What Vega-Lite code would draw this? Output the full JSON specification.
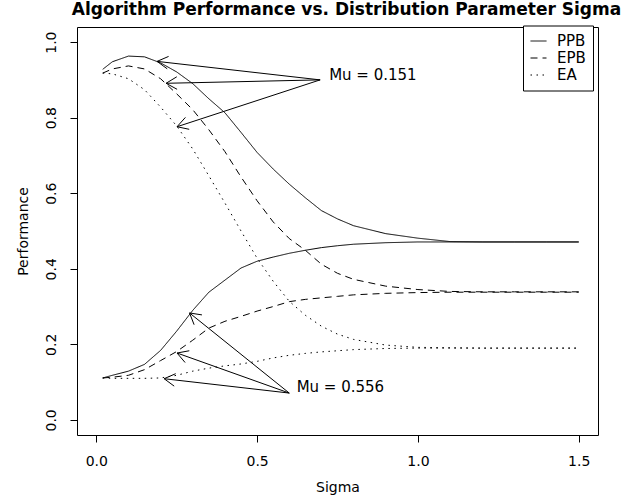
{
  "$schema": "https://vega.github.io/schema/vega-lite/v6.json",
  "width": 521,
  "height": 408,
  "autosize": "none",
  "padding": {"left": 77, "top": 27, "right": 45, "bottom": 64},
  "background": "white",
  "config": {
    "font": "DejaVu Sans",
    "view": {"stroke": "black", "strokeWidth": 1},
    "axis": {"grid": false, "domain": false, "tickColor": "black", "tickSize": 7, "labelColor": "black", "titleColor": "black", "labelFontSize": 14, "titleFontSize": 14, "titleFontWeight": "normal", "labelFont": "DejaVu Sans", "titleFont": "DejaVu Sans"},
    "legend": {"strokeColor": "black", "fillColor": "white", "padding": 7, "symbolType": "stroke", "symbolSize": 256, "symbolStrokeWidth": 1, "symbolStrokeColor": "black", "labelFontSize": 15, "labelFont": "DejaVu Sans", "labelColor": "black", "labelOffset": 10, "rowPadding": -1, "cornerRadius": 0}
  },
  "title": {"text": "Algorithm Performance vs. Distribution Parameter Sigma", "fontSize": 17, "fontWeight": "bold", "font": "DejaVu Sans", "anchor": "middle", "color": "black", "offset": 6, "dx": 9},
  "datasets": {
    "curves": [
      {"s": 0.02, "p": 0.928, "alg": "PPB", "mu": "0.151"},
      {"s": 0.05, "p": 0.948, "alg": "PPB", "mu": "0.151"},
      {"s": 0.10, "p": 0.963, "alg": "PPB", "mu": "0.151"},
      {"s": 0.15, "p": 0.961, "alg": "PPB", "mu": "0.151"},
      {"s": 0.20, "p": 0.945, "alg": "PPB", "mu": "0.151"},
      {"s": 0.25, "p": 0.921, "alg": "PPB", "mu": "0.151"},
      {"s": 0.30, "p": 0.890, "alg": "PPB", "mu": "0.151"},
      {"s": 0.35, "p": 0.850, "alg": "PPB", "mu": "0.151"},
      {"s": 0.40, "p": 0.813, "alg": "PPB", "mu": "0.151"},
      {"s": 0.45, "p": 0.761, "alg": "PPB", "mu": "0.151"},
      {"s": 0.50, "p": 0.708, "alg": "PPB", "mu": "0.151"},
      {"s": 0.55, "p": 0.664, "alg": "PPB", "mu": "0.151"},
      {"s": 0.60, "p": 0.624, "alg": "PPB", "mu": "0.151"},
      {"s": 0.65, "p": 0.588, "alg": "PPB", "mu": "0.151"},
      {"s": 0.70, "p": 0.554, "alg": "PPB", "mu": "0.151"},
      {"s": 0.75, "p": 0.532, "alg": "PPB", "mu": "0.151"},
      {"s": 0.80, "p": 0.514, "alg": "PPB", "mu": "0.151"},
      {"s": 0.90, "p": 0.493, "alg": "PPB", "mu": "0.151"},
      {"s": 1.00, "p": 0.481, "alg": "PPB", "mu": "0.151"},
      {"s": 1.10, "p": 0.472, "alg": "PPB", "mu": "0.151"},
      {"s": 1.20, "p": 0.471, "alg": "PPB", "mu": "0.151"},
      {"s": 1.30, "p": 0.471, "alg": "PPB", "mu": "0.151"},
      {"s": 1.40, "p": 0.471, "alg": "PPB", "mu": "0.151"},
      {"s": 1.50, "p": 0.471, "alg": "PPB", "mu": "0.151"},

      {"s": 0.02, "p": 0.918, "alg": "EPB", "mu": "0.151"},
      {"s": 0.05, "p": 0.929, "alg": "EPB", "mu": "0.151"},
      {"s": 0.10, "p": 0.937, "alg": "EPB", "mu": "0.151"},
      {"s": 0.15, "p": 0.929, "alg": "EPB", "mu": "0.151"},
      {"s": 0.20, "p": 0.903, "alg": "EPB", "mu": "0.151"},
      {"s": 0.25, "p": 0.863, "alg": "EPB", "mu": "0.151"},
      {"s": 0.30, "p": 0.821, "alg": "EPB", "mu": "0.151"},
      {"s": 0.35, "p": 0.768, "alg": "EPB", "mu": "0.151"},
      {"s": 0.40, "p": 0.710, "alg": "EPB", "mu": "0.151"},
      {"s": 0.45, "p": 0.643, "alg": "EPB", "mu": "0.151"},
      {"s": 0.50, "p": 0.580, "alg": "EPB", "mu": "0.151"},
      {"s": 0.55, "p": 0.524, "alg": "EPB", "mu": "0.151"},
      {"s": 0.60, "p": 0.480, "alg": "EPB", "mu": "0.151"},
      {"s": 0.65, "p": 0.449, "alg": "EPB", "mu": "0.151"},
      {"s": 0.70, "p": 0.412, "alg": "EPB", "mu": "0.151"},
      {"s": 0.75, "p": 0.388, "alg": "EPB", "mu": "0.151"},
      {"s": 0.80, "p": 0.372, "alg": "EPB", "mu": "0.151"},
      {"s": 0.90, "p": 0.354, "alg": "EPB", "mu": "0.151"},
      {"s": 1.00, "p": 0.345, "alg": "EPB", "mu": "0.151"},
      {"s": 1.10, "p": 0.340, "alg": "EPB", "mu": "0.151"},
      {"s": 1.20, "p": 0.339, "alg": "EPB", "mu": "0.151"},
      {"s": 1.30, "p": 0.339, "alg": "EPB", "mu": "0.151"},
      {"s": 1.40, "p": 0.339, "alg": "EPB", "mu": "0.151"},
      {"s": 1.50, "p": 0.339, "alg": "EPB", "mu": "0.151"},

      {"s": 0.02, "p": 0.918, "alg": "EA", "mu": "0.151"},
      {"s": 0.05, "p": 0.916, "alg": "EA", "mu": "0.151"},
      {"s": 0.10, "p": 0.903, "alg": "EA", "mu": "0.151"},
      {"s": 0.15, "p": 0.874, "alg": "EA", "mu": "0.151"},
      {"s": 0.20, "p": 0.828, "alg": "EA", "mu": "0.151"},
      {"s": 0.25, "p": 0.778, "alg": "EA", "mu": "0.151"},
      {"s": 0.30, "p": 0.717, "alg": "EA", "mu": "0.151"},
      {"s": 0.35, "p": 0.646, "alg": "EA", "mu": "0.151"},
      {"s": 0.40, "p": 0.574, "alg": "EA", "mu": "0.151"},
      {"s": 0.45, "p": 0.500, "alg": "EA", "mu": "0.151"},
      {"s": 0.50, "p": 0.428, "alg": "EA", "mu": "0.151"},
      {"s": 0.55, "p": 0.367, "alg": "EA", "mu": "0.151"},
      {"s": 0.60, "p": 0.314, "alg": "EA", "mu": "0.151"},
      {"s": 0.65, "p": 0.277, "alg": "EA", "mu": "0.151"},
      {"s": 0.70, "p": 0.248, "alg": "EA", "mu": "0.151"},
      {"s": 0.75, "p": 0.227, "alg": "EA", "mu": "0.151"},
      {"s": 0.80, "p": 0.213, "alg": "EA", "mu": "0.151"},
      {"s": 0.90, "p": 0.198, "alg": "EA", "mu": "0.151"},
      {"s": 1.00, "p": 0.192, "alg": "EA", "mu": "0.151"},
      {"s": 1.10, "p": 0.191, "alg": "EA", "mu": "0.151"},
      {"s": 1.20, "p": 0.190, "alg": "EA", "mu": "0.151"},
      {"s": 1.30, "p": 0.190, "alg": "EA", "mu": "0.151"},
      {"s": 1.40, "p": 0.190, "alg": "EA", "mu": "0.151"},
      {"s": 1.50, "p": 0.190, "alg": "EA", "mu": "0.151"},

      {"s": 0.02, "p": 0.111, "alg": "PPB", "mu": "0.556"},
      {"s": 0.05, "p": 0.118, "alg": "PPB", "mu": "0.556"},
      {"s": 0.10, "p": 0.129, "alg": "PPB", "mu": "0.556"},
      {"s": 0.15, "p": 0.147, "alg": "PPB", "mu": "0.556"},
      {"s": 0.20, "p": 0.184, "alg": "PPB", "mu": "0.556"},
      {"s": 0.25, "p": 0.235, "alg": "PPB", "mu": "0.556"},
      {"s": 0.30, "p": 0.290, "alg": "PPB", "mu": "0.556"},
      {"s": 0.35, "p": 0.338, "alg": "PPB", "mu": "0.556"},
      {"s": 0.40, "p": 0.370, "alg": "PPB", "mu": "0.556"},
      {"s": 0.45, "p": 0.402, "alg": "PPB", "mu": "0.556"},
      {"s": 0.50, "p": 0.420, "alg": "PPB", "mu": "0.556"},
      {"s": 0.55, "p": 0.431, "alg": "PPB", "mu": "0.556"},
      {"s": 0.60, "p": 0.441, "alg": "PPB", "mu": "0.556"},
      {"s": 0.65, "p": 0.449, "alg": "PPB", "mu": "0.556"},
      {"s": 0.70, "p": 0.456, "alg": "PPB", "mu": "0.556"},
      {"s": 0.75, "p": 0.461, "alg": "PPB", "mu": "0.556"},
      {"s": 0.80, "p": 0.465, "alg": "PPB", "mu": "0.556"},
      {"s": 0.90, "p": 0.469, "alg": "PPB", "mu": "0.556"},
      {"s": 1.00, "p": 0.471, "alg": "PPB", "mu": "0.556"},
      {"s": 1.10, "p": 0.471, "alg": "PPB", "mu": "0.556"},
      {"s": 1.20, "p": 0.471, "alg": "PPB", "mu": "0.556"},
      {"s": 1.30, "p": 0.471, "alg": "PPB", "mu": "0.556"},
      {"s": 1.40, "p": 0.471, "alg": "PPB", "mu": "0.556"},
      {"s": 1.50, "p": 0.471, "alg": "PPB", "mu": "0.556"},

      {"s": 0.02, "p": 0.111, "alg": "EPB", "mu": "0.556"},
      {"s": 0.05, "p": 0.113, "alg": "EPB", "mu": "0.556"},
      {"s": 0.10, "p": 0.118, "alg": "EPB", "mu": "0.556"},
      {"s": 0.15, "p": 0.133, "alg": "EPB", "mu": "0.556"},
      {"s": 0.20, "p": 0.157, "alg": "EPB", "mu": "0.556"},
      {"s": 0.25, "p": 0.181, "alg": "EPB", "mu": "0.556"},
      {"s": 0.30, "p": 0.211, "alg": "EPB", "mu": "0.556"},
      {"s": 0.35, "p": 0.243, "alg": "EPB", "mu": "0.556"},
      {"s": 0.40, "p": 0.261, "alg": "EPB", "mu": "0.556"},
      {"s": 0.45, "p": 0.274, "alg": "EPB", "mu": "0.556"},
      {"s": 0.50, "p": 0.288, "alg": "EPB", "mu": "0.556"},
      {"s": 0.55, "p": 0.300, "alg": "EPB", "mu": "0.556"},
      {"s": 0.60, "p": 0.313, "alg": "EPB", "mu": "0.556"},
      {"s": 0.65, "p": 0.319, "alg": "EPB", "mu": "0.556"},
      {"s": 0.70, "p": 0.323, "alg": "EPB", "mu": "0.556"},
      {"s": 0.75, "p": 0.327, "alg": "EPB", "mu": "0.556"},
      {"s": 0.80, "p": 0.331, "alg": "EPB", "mu": "0.556"},
      {"s": 0.90, "p": 0.335, "alg": "EPB", "mu": "0.556"},
      {"s": 1.00, "p": 0.337, "alg": "EPB", "mu": "0.556"},
      {"s": 1.10, "p": 0.338, "alg": "EPB", "mu": "0.556"},
      {"s": 1.20, "p": 0.338, "alg": "EPB", "mu": "0.556"},
      {"s": 1.30, "p": 0.338, "alg": "EPB", "mu": "0.556"},
      {"s": 1.40, "p": 0.338, "alg": "EPB", "mu": "0.556"},
      {"s": 1.50, "p": 0.338, "alg": "EPB", "mu": "0.556"},

      {"s": 0.02, "p": 0.111, "alg": "EA", "mu": "0.556"},
      {"s": 0.05, "p": 0.110, "alg": "EA", "mu": "0.556"},
      {"s": 0.10, "p": 0.110, "alg": "EA", "mu": "0.556"},
      {"s": 0.15, "p": 0.110, "alg": "EA", "mu": "0.556"},
      {"s": 0.20, "p": 0.111, "alg": "EA", "mu": "0.556"},
      {"s": 0.25, "p": 0.118, "alg": "EA", "mu": "0.556"},
      {"s": 0.30, "p": 0.129, "alg": "EA", "mu": "0.556"},
      {"s": 0.35, "p": 0.137, "alg": "EA", "mu": "0.556"},
      {"s": 0.40, "p": 0.143, "alg": "EA", "mu": "0.556"},
      {"s": 0.45, "p": 0.148, "alg": "EA", "mu": "0.556"},
      {"s": 0.50, "p": 0.155, "alg": "EA", "mu": "0.556"},
      {"s": 0.55, "p": 0.164, "alg": "EA", "mu": "0.556"},
      {"s": 0.60, "p": 0.171, "alg": "EA", "mu": "0.556"},
      {"s": 0.65, "p": 0.176, "alg": "EA", "mu": "0.556"},
      {"s": 0.70, "p": 0.180, "alg": "EA", "mu": "0.556"},
      {"s": 0.75, "p": 0.183, "alg": "EA", "mu": "0.556"},
      {"s": 0.80, "p": 0.186, "alg": "EA", "mu": "0.556"},
      {"s": 0.90, "p": 0.189, "alg": "EA", "mu": "0.556"},
      {"s": 1.00, "p": 0.190, "alg": "EA", "mu": "0.556"},
      {"s": 1.10, "p": 0.190, "alg": "EA", "mu": "0.556"},
      {"s": 1.20, "p": 0.190, "alg": "EA", "mu": "0.556"},
      {"s": 1.30, "p": 0.190, "alg": "EA", "mu": "0.556"},
      {"s": 1.40, "p": 0.190, "alg": "EA", "mu": "0.556"},
      {"s": 1.50, "p": 0.190, "alg": "EA", "mu": "0.556"}
    ],
    "segs": [
      {"x": 0.696, "y": 0.900, "x2": 0.189, "y2": 0.949},
      {"x": 0.696, "y": 0.900, "x2": 0.217, "y2": 0.891},
      {"x": 0.696, "y": 0.900, "x2": 0.251, "y2": 0.776},
      {"x": 0.600, "y": 0.071, "x2": 0.290, "y2": 0.283},
      {"x": 0.600, "y": 0.071, "x2": 0.251, "y2": 0.177},
      {"x": 0.600, "y": 0.071, "x2": 0.211, "y2": 0.109},
      {"x": 0.189, "y": 0.949, "x2": 0.2205, "y2": 0.9293},
      {"x": 0.189, "y": 0.949, "x2": 0.2248, "y2": 0.9621},
      {"x": 0.217, "y": 0.891, "x2": 0.2512, "y2": 0.8751},
      {"x": 0.217, "y": 0.891, "x2": 0.2503, "y2": 0.9082},
      {"x": 0.251, "y": 0.776, "x2": 0.2889, "y2": 0.7692},
      {"x": 0.251, "y": 0.776, "x2": 0.2771, "y2": 0.8007},
      {"x": 0.290, "y": 0.283, "x2": 0.3041, "y2": 0.2520},
      {"x": 0.290, "y": 0.283, "x2": 0.3285, "y2": 0.2779},
      {"x": 0.251, "y": 0.177, "x2": 0.2761, "y2": 0.1519},
      {"x": 0.251, "y": 0.177, "x2": 0.2892, "y2": 0.1830},
      {"x": 0.211, "y": 0.109, "x2": 0.2422, "y2": 0.0893},
      {"x": 0.211, "y": 0.109, "x2": 0.2469, "y2": 0.1223}
    ],
    "notes": [
      {"x": 0.724, "y": 0.913, "t": "Mu = 0.151"},
      {"x": 0.623, "y": 0.087, "t": "Mu = 0.556"}
    ]
  },
  "layer": [
    {
      "data": {"name": "curves"},
      "mark": {"type": "line", "color": "black", "strokeWidth": 1},
      "encoding": {
        "x": {"field": "s", "type": "quantitative", "scale": {"domain": [-0.06, 1.56], "nice": false, "zero": false}, "axis": {"values": [0, 0.5, 1, 1.5], "format": ".1f", "title": "Sigma", "labelPadding": 12, "titlePadding": 12}},
        "y": {"field": "p", "type": "quantitative", "scale": {"domain": [-0.04, 1.04], "nice": false, "zero": false}, "axis": {"values": [0, 0.2, 0.4, 0.6, 0.8, 1.0], "format": ".1f", "title": "Performance", "labelAngle": 270, "labelAlign": "center", "labelBaseline": "alphabetic", "labelPadding": 15, "titlePadding": 14}},
        "strokeDash": {"field": "alg", "type": "nominal", "scale": {"domain": ["PPB", "EPB", "EA"], "range": [[1, 0], [7, 5], [1.5, 4.5]]}, "legend": {"title": null, "orient": "none", "legendX": 446, "legendY": -1.5}},
        "detail": {"field": "mu"}
      }
    },
    {
      "data": {"name": "segs"},
      "mark": {"type": "rule", "color": "black", "strokeWidth": 1},
      "encoding": {
        "x": {"field": "x", "type": "quantitative"},
        "y": {"field": "y", "type": "quantitative"},
        "x2": {"field": "x2"},
        "y2": {"field": "y2"}
      }
    },
    {
      "data": {"name": "notes"},
      "mark": {"type": "text", "align": "left", "baseline": "middle", "fontSize": 15, "font": "DejaVu Sans", "color": "black"},
      "encoding": {
        "x": {"field": "x", "type": "quantitative"},
        "y": {"field": "y", "type": "quantitative"},
        "text": {"field": "t"}
      }
    }
  ]
}
